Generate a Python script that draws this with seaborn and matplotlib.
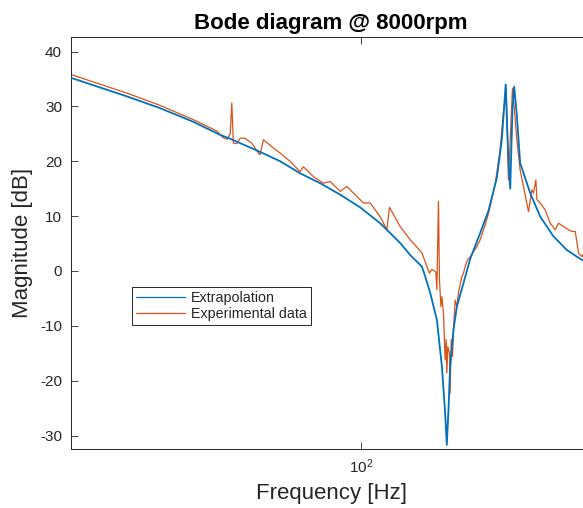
import matplotlib
matplotlib.use("Agg")
import matplotlib.pyplot as plt
from matplotlib.ticker import NullLocator, FixedLocator
import seaborn as sns

sns.set_theme(style="white")
plt.rcParams["font.family"] = ["Liberation Sans", "DejaVu Sans"]
plt.rcParams["axes.unicode_minus"] = False

BLUE = "#0072BD"
ORANGE = "#D95319"
AX_COL = "#262626"

# Extrapolation (model) curve
ext_freq = [25.0, 32.7, 38.2, 44.8, 51.0, 53.5, 61.7, 67.9, 74.7, 82.2,
            90.5, 99.5, 109.5, 114.9, 120.5, 126.4, 133.7, 135.8, 139.1,
            143.6, 147.1, 149.4, 150.6, 151.8, 153.0, 155.5, 158.0, 163.1,
            168.4, 176.6, 183.8, 191.3, 195.9, 198.1, 199.5, 202.2, 203.9,
            206.1, 207.8, 210.4, 213.8, 224.3, 235.3, 250.7, 267.3, 287.3,
            300.0]
ext_db = [35.2, 31.8, 29.7, 27.2, 24.8, 24.1, 21.7, 20.0, 17.8, 16.0,
          13.9, 11.6, 8.7, 6.9, 5.1, 2.9, 0.8, -1.0, -4.0,
          -8.9, -17.4, -25.9, -31.7, -25.3, -17.4, -10.7, -6.5, -2.2,
          2.2, 6.9, 11.0, 17.0, 24.0, 30.0, 34.0, 19.5, 15.0,
          29.5, 33.6, 28.5, 19.7, 14.2, 9.9, 6.3, 3.8, 2.0,
          1.3]

exp_freq = [25.0, 32.7, 38.2, 44.8, 50.2, 51.7, 52.7, 53.5, 53.9, 54.3,
            55.2, 56.1, 57.4, 59.3, 61.2, 61.7, 62.7, 65.8, 67.9, 71.2,
            74.1, 74.7, 75.9, 79.6, 83.5, 86.3, 90.5, 93.4, 101.1, 104.4,
            109.5, 113.1, 114.5, 120.5, 126.4, 133.7, 136.9, 138.6, 140.2,
            142.9, 143.6, 144.7, 145.4, 146.4, 147.1, 148.2, 149.4, 150.1,
            150.6, 151.3, 152.5, 153.0, 153.8, 154.7, 155.5, 156.7, 158.0,
            159.2, 161.8, 163.1, 164.4, 166.2, 168.4, 173.8, 176.6, 180.9,
            183.8, 189.7, 194.3, 197.1, 200.0, 202.2, 206.1, 208.0, 210.4,
            213.8, 217.2, 222.5, 226.1, 227.8, 230.5, 231.6, 235.3, 241.0,
            246.8, 252.8, 256.8, 263.0, 269.4, 273.8, 278.2, 282.7, 287.3,
            289.4, 295.0, 300.0]
exp_db = [35.8, 32.4, 30.2, 27.6, 25.5, 24.3, 24.0, 25.0, 30.6, 23.3,
          23.2, 24.2, 24.2, 23.3, 21.5, 21.2, 23.9, 22.4, 21.5, 20.0,
          18.4, 18.1, 19.0, 17.2, 16.0, 16.3, 14.5, 15.4, 12.4, 12.4,
          9.9, 7.5, 11.6, 8.1, 5.7, 3.3, 0.8, -0.4, 0.3,
          -0.2, -3.4, 12.7, -1.6, -6.5, -4.7, -7.7, -16.2, -12.5,
          -18.6, -13.8, -15.0, -22.3, -12.5, -15.6, -10.7, -5.3, -6.5,
          -4.0, -1.0, -0.4, 0.8, 2.0, 2.6, 4.4, 5.7, 8.4,
          10.5, 15.8, 22.1, 28.4, 33.4, 16.6, 33.3, 29.5, 24.0,
          18.4, 15.4, 10.8, 14.8, 14.2, 16.6, 13.0, 12.4, 11.1,
          8.7, 7.5, 8.7, 8.1, 7.5, 7.2, 7.2, 3.2, 2.6,
          3.2, 2.5, 2.0]

y_ticks = [-30, -20, -10, 0, 10, 20, 30, 40]

fig = plt.figure(figsize=(5.83, 5.08), dpi=100)
ax = fig.add_axes([0.1218, 0.1167, 0.892, 0.81])

sns.lineplot(x=exp_freq, y=exp_db, ax=ax, color=ORANGE, lw=0.9,
             estimator=None, sort=False, label="Experimental data", zorder=2)
sns.lineplot(x=ext_freq, y=ext_db, ax=ax, color=BLUE, lw=1.3,
             estimator=None, sort=False, label="Extrapolation", zorder=3)

ax.set_xscale("log")
ax.set_xlim(25, 300)
ax.set_ylim(-32.4, 42.6)
ax.xaxis.set_major_locator(FixedLocator([100]))
ax.xaxis.set_minor_locator(NullLocator())
ax.set_xticklabels([r"$\mathregular{10^{2}}$"])
ax.set_yticks(y_ticks)
ax.set_yticklabels([str(t) for t in y_ticks])

ax.tick_params(direction="in", length=5, width=0.6, colors=AX_COL,
               labelsize=11, top=True, right=False, bottom=True, left=True)
ax.tick_params(axis="x", pad=6)
ax.tick_params(axis="y", pad=6.5)
for s in ax.spines.values():
    s.set_color(AX_COL)
    s.set_linewidth(0.7)
ax.spines["right"].set_visible(False)

ax.set_title("Bode diagram @ 8000rpm", fontsize=16, fontweight="bold",
             color="black", pad=6)
ax.set_xlabel("Frequency [Hz]", fontsize=16, color=AX_COL, labelpad=5)
ax.set_ylabel("Magnitude [dB]", fontsize=16, color=AX_COL, labelpad=5)

handles, labels = ax.get_legend_handles_labels()
order = [labels.index("Extrapolation"), labels.index("Experimental data")]
leg = ax.legend([handles[i] for i in order], [labels[i] for i in order],
                loc="lower left", bbox_to_anchor=(0.117, 0.301), borderaxespad=0,
                fontsize=10.3, frameon=True, fancybox=False, framealpha=1,
                edgecolor=AX_COL, handlelength=3.4, handletextpad=0.4,
                labelspacing=0.1, borderpad=0.3)
leg.get_frame().set_linewidth(0.7)
for h in leg.get_lines():
    h.set_linewidth(0.9)

fig.savefig("out.png", dpi=100)
